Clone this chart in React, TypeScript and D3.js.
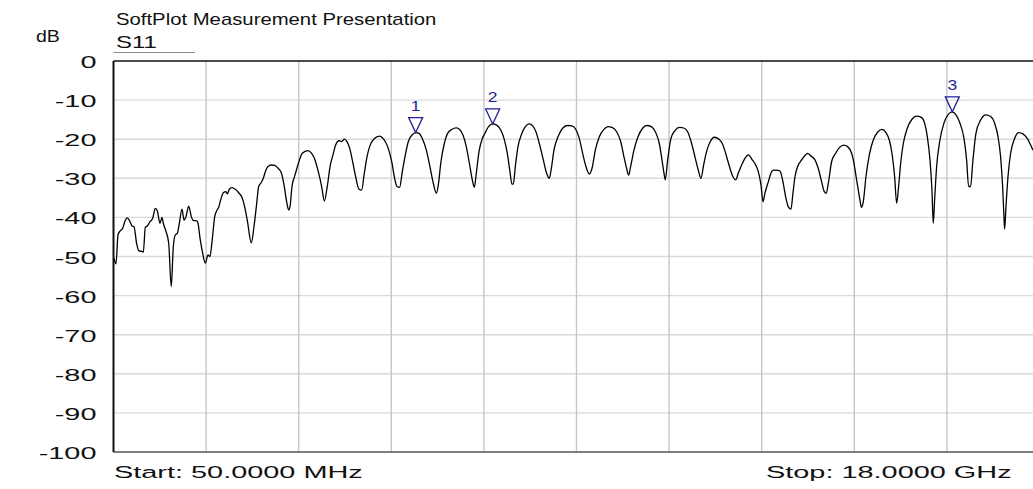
import React, {useRef, useEffect} from "react";
import * as d3 from "d3";

// trace: frequency in GHz, level in dB
const freqGHz = [
	0.06, 0.098, 0.137, 0.176, 0.228, 0.267, 0.318, 0.37, 0.409, 0.447, 0.5, 0.538, 0.616, 0.628,
	0.667, 0.705, 0.757, 0.81, 0.86, 0.899, 0.951, 0.99, 1.015, 1.068, 1.12, 1.17, 1.209, 1.248,
	1.287, 1.326, 1.378, 1.417, 1.455, 1.508, 1.558, 1.597, 1.663, 1.688, 1.727, 1.779, 1.83, 1.882,
	1.92, 1.96, 2.012, 2.05, 2.089, 2.128, 2.178, 2.23, 2.256, 2.295, 2.347, 2.411, 2.477, 2.541,
	2.593, 2.643, 2.721, 2.773, 2.826, 2.864, 2.903, 2.954, 2.993, 3.045, 3.109, 3.175, 3.239, 3.303,
	3.355, 3.407, 3.446, 3.471, 3.51,
	3.568, 3.633, 3.71, 3.814, 3.891, 3.956, 4.02, 4.085, 4.137, 4.188, 4.253, 4.305, 4.356, 4.421,
	4.473, 4.524, 4.576, 4.628, 4.679, 4.744, 4.809, 4.86, 4.912, 4.964, 5.015, 5.093, 5.209, 5.287,
	5.364, 5.442, 5.506, 5.545, 5.597, 5.648, 5.7, 5.765, 5.855, 5.907, 5.972, 6.036, 6.114, 6.178,
	6.243, 6.308, 6.346, 6.398, 6.463, 6.527, 6.605, 6.695, 6.76, 6.824, 6.889, 6.954, 7.005, 7.044,
	7.083, 7.135, 7.199, 7.251,
	7.283, 7.4, 7.477, 7.555, 7.619, 7.684, 7.735, 7.774, 7.8, 7.839, 7.891, 7.955, 8.033, 8.11,
	8.175, 8.239, 8.304, 8.382, 8.446, 8.498, 8.537, 8.588, 8.666, 8.756, 8.847, 8.937, 9.015, 9.079,
	9.144, 9.209, 9.273, 9.325, 9.39, 9.467, 9.557, 9.635, 9.713, 9.803, 9.881, 9.945, 9.997, 10.036,
	10.074, 10.139, 10.217, 10.307, 10.385, 10.475, 10.553, 10.63, 10.682, 10.721, 10.746,
	10.792, 10.856, 10.934, 11.024, 11.115, 11.179, 11.257, 11.321, 11.386, 11.438, 11.489, 11.554,
	11.619, 11.696, 11.787, 11.851, 11.916, 11.981, 12.058, 12.11, 12.161, 12.226, 12.291, 12.355,
	12.433, 12.484, 12.549, 12.601, 12.64, 12.678, 12.743, 12.808, 12.846, 12.937, 12.976, 13.027,
	13.079, 13.131, 13.182, 13.221, 13.26, 13.312, 13.389, 13.467, 13.505, 13.57, 13.648, 13.712,
	13.777, 13.828, 13.867, 13.906, 13.971, 14.048, 14.126, 14.203, 14.281, 14.358,
	14.391, 14.455, 14.52, 14.546, 14.584, 14.636, 14.701, 14.778, 14.869, 14.946, 15.024, 15.088,
	15.14, 15.192, 15.231, 15.269, 15.308, 15.36, 15.437, 15.528, 15.618, 15.709, 15.773, 15.825,
	15.877, 15.915, 15.941, 15.967, 16.006, 16.07, 16.148, 16.251, 16.31, 16.381, 16.458, 16.536,
	16.587, 16.626, 16.665, 16.704, 16.768, 16.859, 16.962, 17.053, 17.13, 17.195, 17.246, 17.285,
	17.311, 17.324, 17.35, 17.389, 17.44, 17.518, 17.595, 17.686, 17.763, 17.828, 17.873
];

const s11dB = [
	-50.5, -51.9, -44.5, -43.5, -42.8, -41.1, -40.1, -41.1, -42.2, -42.4, -46.8, -48.5, -48.8, -48.9,
	-42.5, -42.2, -41.1, -40.2, -37.7, -38.3, -41.5, -40.0, -41.5, -43.6, -46.6, -57.7, -47.5, -44.5,
	-44.1, -41.5, -37.9, -40.7, -39.8, -37.1, -39.8, -40.8, -40.9, -41.5, -45.3, -49.2, -51.7, -49.6,
	-50.0, -46.2, -39.8, -38.3, -37.4, -35.5, -33.7, -33.4, -34.0, -32.8, -32.4, -32.8, -33.7, -34.9,
	-37.3, -40.7, -46.5, -42.4, -36.4, -32.1, -31.3, -30.0, -28.3, -27.0, -26.6, -26.7, -27.4, -28.6,
	-31.7, -36.0, -38.1, -37.3, -32.1,
	-29.2, -26.2, -23.6, -22.9, -23.6, -25.3, -28.3, -32.1, -35.8, -32.6, -26.6, -24.0, -21.5, -20.4,
	-20.6, -20.0, -20.6, -22.3, -25.3, -29.6, -32.8, -33.0, -28.7, -24.5, -21.9, -20.0, -19.2, -20.0,
	-21.9, -25.7, -30.4, -32.1, -32.3, -28.3, -24.5, -20.6, -18.7, -18.3, -18.5, -19.8, -22.8, -26.6,
	-30.9, -33.8, -31.7, -25.7, -21.1, -18.5, -17.5, -17.1, -17.5, -18.9, -21.9, -26.6, -30.4, -32.3,
	-28.7, -23.2, -19.8, -18.5,
	-17.6, -16.1, -16.4, -17.6, -19.8, -23.6, -28.3, -31.5, -31.5, -27.0, -21.9, -18.9, -16.8, -16.1,
	-16.6, -18.1, -21.1, -25.3, -28.7, -30.0, -27.5, -22.8, -19.4, -17.2, -16.5, -16.6, -17.6, -19.8,
	-23.6, -27.0, -28.9, -27.5, -22.8, -19.4, -17.5, -16.8, -17.0, -18.1, -20.6, -24.5, -27.5, -29.2,
	-27.0, -22.8, -19.4, -17.2, -16.5, -16.8, -18.1, -21.1, -25.3, -28.7, -30.4,
	-25.3, -19.8, -17.8, -17.0, -17.2, -18.1, -21.1, -24.5, -27.9, -30.0, -26.6, -22.8,
	-20.6, -19.5, -20.0, -21.1, -23.6, -26.6, -29.6, -30.4, -28.7, -26.6, -24.9, -24.0,
	-25.3, -26.2, -28.3, -31.7, -36.0, -33.8, -30.9, -28.3, -27.9, -28.0, -28.3, -30.9,
	-34.7, -37.3, -37.9, -33.8, -29.6, -27.0, -25.3, -24.0, -23.6, -24.3, -25.3, -27.5,
	-30.9, -33.4, -33.8, -31.3, -25.7, -23.6, -22.1, -21.5, -21.9, -23.6,
	-25.3, -30.4, -35.6, -37.4, -36.0, -29.6, -24.0, -20.2, -18.1, -17.5, -18.3, -20.2,
	-23.6, -29.6, -36.4, -32.1, -26.2, -21.1, -17.2, -14.9, -14.1, -14.4, -15.9, -19.3,
	-25.3, -33.0, -41.5, -35.5, -27.0, -20.2, -15.9, -13.4, -13.0, -13.8, -15.9, -19.8,
	-25.3, -32.1, -32.1, -26.2, -18.5, -15.1, -13.8, -14.2, -15.9, -19.3, -24.5, -32.1,
	-39.8, -43.0, -37.3, -29.6, -23.6, -19.8, -18.3, -18.7, -19.8, -21.5, -22.8
];

const yTicks = [0, -10, -20, -30, -40, -50, -60, -70, -80, -90, -100];

const markerNames = ["1", "2", "3"];
const markerFreqGHz = [5.907, 7.4, 16.31];
const markerDb = [-18.3, -16.1, -13.0];

const freqStartGHz = 0.05;
const freqStopGHz = 18;
const xDivisions = 10;

const titleText = "SoftPlot Measurement Presentation";
const traceName = "S11";
const unitText = "dB";
const startText = "Start: 50.0000 MHz";
const stopText = "Stop: 18.0000 GHz";

const App = () => {

	const refPlot = useRef(null);

	let layout = {"width": 1033,
				  "height": 489,
				  "left": 113.5,
				  "right": 1039.5,
				  "top": 61,
				  "bottom": 452};

	let font = "'Liberation Sans', Arial, sans-serif";
	let markerColor = "#1e1e96";

	useEffect(() => {

		let svg = d3.select(refPlot.current)
					.attr("width", layout.width)
					.attr("height", layout.height);

		let xScale = d3.scaleLinear()
						.domain([freqStartGHz, freqStopGHz])
						.range([layout.left, layout.right]);

		let yScale = d3.scaleLinear()
						.domain([-100, 0])
						.range([layout.bottom, layout.top]);

		let step = (freqStopGHz - freqStartGHz) / xDivisions;
		let xGrid = d3.range(1, xDivisions).map(i => freqStartGHz + i * step);

		// horizontal grid
		svg.select("#grid")
			.selectAll(".hgrid")
			.data(yTicks.filter(t => t !== 0 && t !== -100))
			.join("line")
			.attr("class", "hgrid")
			.attr("x1", layout.left)
			.attr("x2", layout.right)
			.attr("y1", d => yScale(d))
			.attr("y2", d => yScale(d))
			.attr("stroke", "#dadada")
			.attr("stroke-width", 1.4);

		// vertical grid
		svg.select("#grid")
			.selectAll(".vgrid")
			.data(xGrid)
			.join("line")
			.attr("class", "vgrid")
			.attr("x1", d => xScale(d))
			.attr("x2", d => xScale(d))
			.attr("y1", layout.top)
			.attr("y2", layout.bottom)
			.attr("stroke", "#c6c6c6")
			.attr("stroke-width", 1.4);

		// frame
		svg.select("#frame")
			.selectAll("line")
			.data([
				{"x1": layout.left, "y1": layout.top, "x2": layout.right, "y2": layout.top, "c": "#111", "w": 1.5},
				{"x1": layout.left, "y1": layout.bottom, "x2": layout.right, "y2": layout.bottom, "c": "#555", "w": 1.5},
				{"x1": layout.left, "y1": layout.top, "x2": layout.left, "y2": layout.bottom, "c": "#111", "w": 2}
			])
			.join("line")
			.attr("x1", d => d.x1)
			.attr("y1", d => d.y1)
			.attr("x2", d => d.x2)
			.attr("y2", d => d.y2)
			.attr("stroke", d => d.c)
			.attr("stroke-width", d => d.w);

		// y labels
		svg.select("#yLabels")
			.selectAll("text")
			.data(yTicks)
			.join("text")
			.attr("transform", d => `translate(${layout.left - 17}, ${yScale(d) + 7}) scale(1.7, 1)`)
			.attr("text-anchor", "end")
			.attr("font-family", font)
			.attr("font-size", 17)
			.attr("fill", "#111")
			.text(d => d);

		// trace
		let points = freqGHz.map((f, i) => [f, s11dB[i]]);

		let line = d3.line()
					.x(d => xScale(d[0]))
					.y(d => yScale(d[1]))
					.curve(d3.curveMonotoneX);

		svg.select("#trace")
			.selectAll("path")
			.data([points])
			.join("path")
			.attr("d", line)
			.attr("fill", "none")
			.attr("stroke", "#000")
			.attr("stroke-width", 1.3)
			.attr("stroke-linejoin", "round");

		// markers
		let markers = svg.select("#markers")
						.selectAll(".marker")
						.data(markerNames.map((n, i) => ({"name": n, "f": markerFreqGHz[i], "db": markerDb[i]})))
						.join("g")
						.attr("class", "marker")
						.attr("transform", d => `translate(${xScale(d.f)}, ${yScale(d.db)})`);

		markers.selectAll("path")
			.data(d => [d])
			.join("path")
			.attr("d", "M0,0L-7,-15L7,-15Z")
			.attr("fill", "none")
			.attr("stroke", markerColor)
			.attr("stroke-width", 1.3);

		markers.selectAll("text")
			.data(d => [d])
			.join("text")
			.attr("transform", `translate(0, -22) scale(1.25, 1)`)
			.attr("text-anchor", "middle")
			.attr("font-family", font)
			.attr("font-size", 14)
			.attr("fill", markerColor)
			.text(d => d.name);

		// header and footer texts
		let labels = [
			{"t": titleText, "x": 116, "y": 24.5, "s": 16, "k": 1.27},
			{"t": traceName, "x": 116, "y": 47.5, "s": 16, "k": 1.5},
			{"t": unitText, "x": 36, "y": 41.5, "s": 16, "k": 1.22},
			{"t": startText, "x": 114, "y": 478, "s": 17, "k": 1.7},
			{"t": stopText, "x": 766, "y": 478, "s": 17, "k": 1.7}
		];

		svg.select("#labels")
			.selectAll("text")
			.data(labels)
			.join("text")
			.attr("transform", d => `translate(${d.x}, ${d.y}) scale(${d.k}, 1)`)
			.attr("font-family", font)
			.attr("font-size", d => d.s)
			.attr("fill", "#111")
			.text(d => d.t);

		svg.select("#underline")
			.attr("x1", layout.left)
			.attr("x2", 195)
			.attr("y1", 52.5)
			.attr("y2", 52.5)
			.attr("stroke", "#8a8a8a")
			.attr("stroke-width", 1);

	}, []);

	return (
		<div>
			<svg ref={refPlot} style={{"position": "absolute", "left": 0, "top": 0, "background": "#fff"}}>
				<g id="grid" />
				<g id="frame" />
				<g id="yLabels" />
				<g id="trace" />
				<g id="markers" />
				<g id="labels" />
				<line id="underline" />
			</svg>
		</div>
	)

}

export default App;
